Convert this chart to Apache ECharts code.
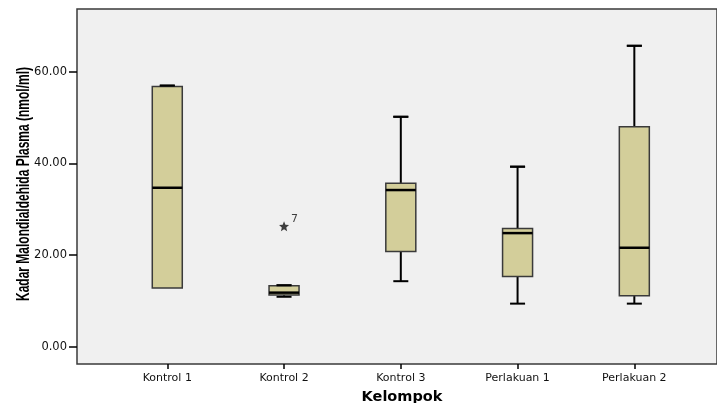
<!DOCTYPE html>
<html>
<head>
<meta charset="utf-8">
<script src="https://cdn.jsdelivr.net/npm/echarts@6/dist/echarts.min.js"></script>
<style>html,body{margin:0;padding:0;background:#fff}#c{width:717px;height:403px}</style>
</head>
<body>
<div id="c"></div>
<script>
const categories = ['Kontrol 1', 'Kontrol 2', 'Kontrol 3', 'Perlakuan 1', 'Perlakuan 2'];
const minVals    = [12.8, 10.9, 14.3,  9.4,  9.4];
const q1Vals     = [12.8, 11.3, 20.8, 15.3, 11.1];
const medianVals = [34.7, 11.8, 34.2, 24.8, 21.6];
const q3Vals     = [56.8, 13.3, 35.7, 25.8, 48.0];
const maxVals    = [57.0, 13.4, 50.2, 39.3, 65.7];
const outlierCats   = [1];
const outlierVals   = [26.3];
const outlierLabels = ['7'];
const yTicks = [0, 20, 40, 60];
const xTicks = [0, 1, 2, 3, 4];

const boxData = categories.map((c, i) => [i, minVals[i], q1Vals[i], medianVals[i], q3Vals[i], maxVals[i]]);
const outlierData = outlierCats.map((c, i) => ({ value: [c, outlierVals[i]], name: outlierLabels[i] }));

const chart = echarts.init(document.getElementById('c'));
const font = 'DejaVu Sans';
chart.setOption({
  animation: false,
  backgroundColor: '#ffffff',
  grid: {
    left: 77, right: -3, top: 9, bottom: 39,
    show: true, backgroundColor: '#f0f0f0',
    borderColor: '#3a3a3a', borderWidth: 1.5
  },
  xAxis: {
    type: 'value', min: -0.7732, max: 4.708, position: 'bottom',
    axisLine: { show: false, onZero: false },
    splitLine: { show: false },
    axisTick: { show: true, inside: false, length: 5, customValues: xTicks, lineStyle: { color: '#000', width: 1.5 } },
    axisLabel: {
      customValues: xTicks, margin: 9,
      fontFamily: font, fontSize: 11, color: '#111',
      formatter: v => categories[Math.round(v)] || ''
    }
  },
  yAxis: {
    type: 'value', min: -3.78, max: 73.73, position: 'left',
    axisLine: { show: false, onZero: false },
    splitLine: { show: false },
    axisTick: { show: true, inside: false, length: 8, customValues: yTicks, lineStyle: { color: '#000', width: 1.5 } },
    axisLabel: {
      customValues: yTicks, margin: 10,
      fontFamily: font, fontSize: 11.5, color: '#111',
      formatter: v => Number(v).toFixed(2)
    }
  },
  graphic: [
    {
      type: 'text', x: 24, y: 184, rotation: Math.PI / 2, scaleX: 1, scaleY: 1.5,
      style: { text: 'Kadar Malondialdehida Plasma (nmol/ml)', font: 'bold 12px "Liberation Sans"', fill: '#000', textAlign: 'center', textVerticalAlign: 'middle' }
    },
    {
      type: 'text', x: 402, y: 397,
      style: { text: 'Kelompok', font: 'bold 14.5px "DejaVu Sans"', fill: '#000', textAlign: 'center', textVerticalAlign: 'middle' }
    }
  ],
  series: [
    {
      type: 'custom',
      data: boxData,
      encode: { x: 0, y: [1, 2, 3, 4, 5] },
      renderItem: function (params, api) {
        const i = api.value(0);
        const vMin = api.value(1), vQ1 = api.value(2), vMed = api.value(3), vQ3 = api.value(4), vMax = api.value(5);
        const pMin = api.coord([i, vMin]);
        const pQ1 = api.coord([i, vQ1]);
        const pMed = api.coord([i, vMed]);
        const pQ3 = api.coord([i, vQ3]);
        const pMax = api.coord([i, vMax]);
        const x = pMed[0];
        const hw = 15, cw = 7.5;
        const wStyle = { stroke: '#000', lineWidth: 2, fill: null };
        const children = [];
        if (vMax > vQ3) {
          children.push({ type: 'line', shape: { x1: x, y1: pQ3[1], x2: x, y2: pMax[1] }, style: wStyle });
          children.push({ type: 'line', shape: { x1: x - cw, y1: pMax[1], x2: x + cw, y2: pMax[1] }, style: wStyle });
        }
        if (vMin < vQ1) {
          children.push({ type: 'line', shape: { x1: x, y1: pQ1[1], x2: x, y2: pMin[1] }, style: wStyle });
          children.push({ type: 'line', shape: { x1: x - cw, y1: pMin[1], x2: x + cw, y2: pMin[1] }, style: wStyle });
        }
        children.push({
          type: 'rect',
          shape: { x: x - hw, y: pQ3[1], width: hw * 2, height: pQ1[1] - pQ3[1] },
          style: { fill: '#d3ce9a', stroke: '#3a3a3a', lineWidth: 1.5 }
        });
        children.push({
          type: 'line',
          shape: { x1: x - hw, y1: pMed[1], x2: x + hw, y2: pMed[1] },
          style: { stroke: '#000', lineWidth: 2.5 }
        });
        if (vMax > vQ3) {
          children.push({ type: 'line', shape: { x1: x - cw, y1: pMax[1], x2: x + cw, y2: pMax[1] }, style: wStyle });
        }
        return { type: 'group', children: children };
      },
      z: 2
    },
    {
      type: 'scatter',
      data: outlierData,
      symbol: 'path://M0,-10 L2.6,-3.6 9.5,-3.1 4.2,1.4 5.9,8.1 0,4.4 -5.9,8.1 -4.2,1.4 -9.5,-3.1 -2.6,-3.6 Z',
      symbolSize: 10,
      itemStyle: { color: '#111' },
      label: {
        show: true, formatter: p => p.name, position: 'right', distance: 2, offset: [0, -7],
        fontFamily: font, fontSize: 11, color: '#111'
      },
      z: 3
    }
  ]
});
</script>
</body>
</html>
